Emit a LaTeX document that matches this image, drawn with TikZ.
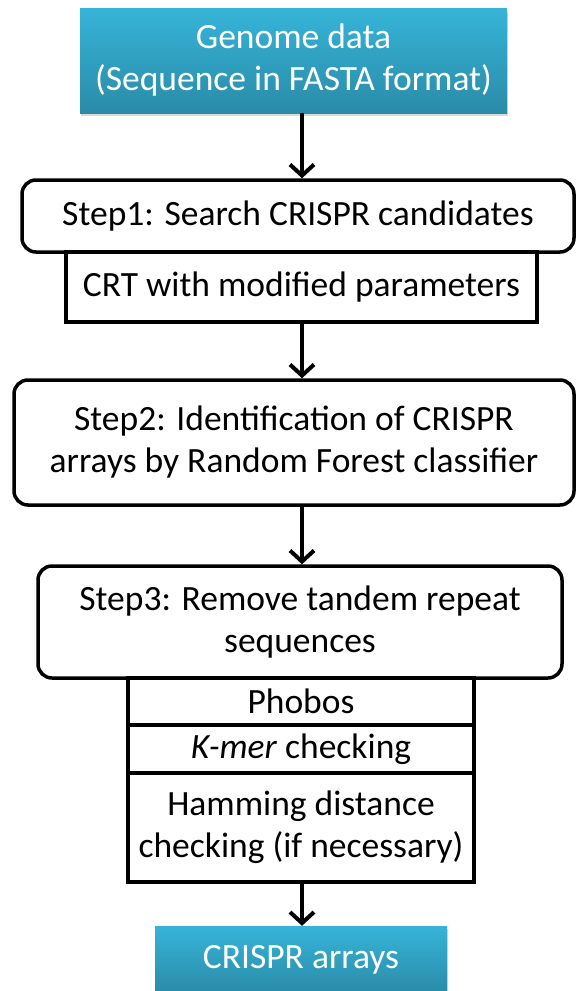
\documentclass[tikz,border=0pt]{standalone}
\usepackage{fontspec}
\setmainfont{Carlito}
\usetikzlibrary{arrows.meta,shadows}
\definecolor{tealtop}{HTML}{36B4D8}
\definecolor{tealbot}{HTML}{2A8BA7}
\begin{document}
\begin{tikzpicture}[x=1pt,y=-1pt,
  every node/.style={font=\fontsize{35.5}{42}\selectfont, align=center, inner sep=0pt},
  box/.style={draw=black, line width=3.5pt},
  rbox/.style={box, rounded corners=14pt},
  databox/.style={top color=tealtop, bottom color=tealbot, text=white,
    drop shadow={opacity=0.3, shadow xshift=1pt, shadow yshift=-3pt}},
  arr/.style={line width=4pt, -{Straight Barb[length=11pt,width=24pt,line width=4pt]}}
]
\useasboundingbox (0,0) rectangle (577,991);
\clip (0,0) rectangle (577,991);

% input data
\node[databox, minimum width=427pt, minimum height=105pt] (genome) at (293.5,60.5)
  {Genome data\\(Sequence in FASTA format)};

% step 1
\node[rbox, fill=white, minimum width=552pt, minimum height=72pt] (step1) at (298,216)
  {Step1: Search CRISPR candidates};
\node[box, fill=white, minimum width=471pt, minimum height=70pt] (crt) at (301.5,287)
  {CRT with modified parameters};

% step 2
\node[rbox, minimum width=560pt, minimum height=125pt] (step2) at (294,442.5)
  {Step2: Identification of CRISPR\\arrays by Random Forest classifier};

% step 3 and its checks
\node[rbox, fill=white, minimum width=524pt, minimum height=112pt] (step3) at (300,622)
  {Step3: Remove tandem repeat\\sequences};
\node[box, fill=white, minimum width=346pt, minimum height=47pt] (phobos) at (301,701.5)
  {Phobos};
\node[box, minimum width=346pt, minimum height=48pt] (kmer) at (301,749)
  {\textit{K-mer} checking};
\node[box, minimum width=346pt, minimum height=109pt] (hamming) at (301,827.5)
  {Hamming distance\\checking (if necessary)};

% output
\node[databox, minimum width=292pt, minimum height=68pt] (out) at (301,960)
  {CRISPR arrays};

% connectors
\coordinate (ax) at (302,0);
\draw[arr] (genome.south -| ax) -- (step1.north -| ax);
\draw[arr] (crt.south -| ax) -- (step2.north -| ax);
\draw[arr] (step2.south -| ax) -- (step3.north -| ax);
\draw[arr] (hamming.south -| ax) -- (out.north -| ax);
\end{tikzpicture}
\end{document}
